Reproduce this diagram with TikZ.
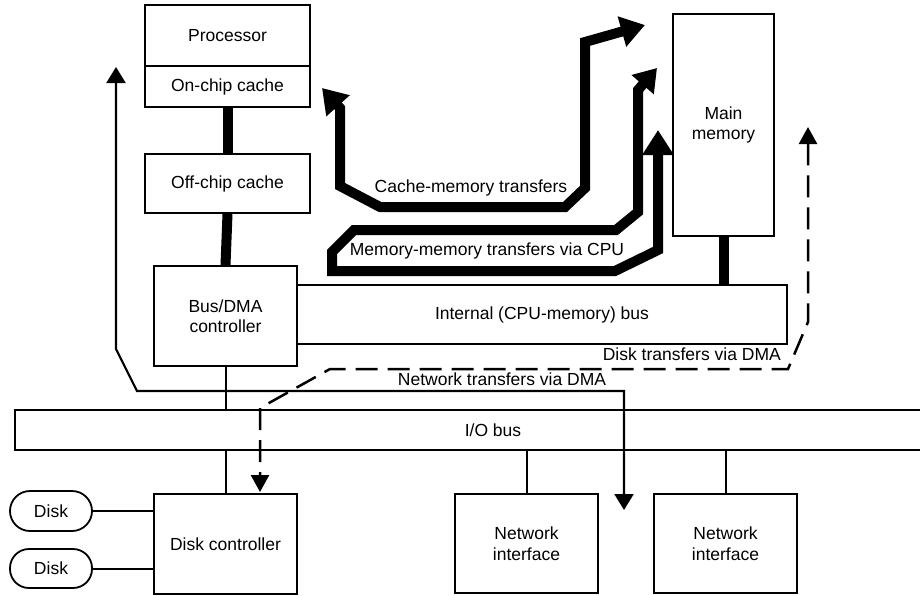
\documentclass[tikz,border=0pt]{standalone}
\usepackage{fontspec}
\setmainfont{Liberation Sans}
\usetikzlibrary{arrows.meta}
\begin{document}
\begin{tikzpicture}[x=1pt,y=-1pt,
  every node/.style={font=\fontsize{17.5}{20.5}\selectfont, inner sep=0pt, align=center},
  box/.style={draw, line width=1.8pt},
  thinln/.style={line width=2pt},
  thickln/.style={line width=10pt},
  bigarrow/.style={line width=10pt, line join=miter, miter limit=4,
     {Triangle[length=24pt,width=30pt]}-{Triangle[length=24pt,width=30pt]}},
  netarrow/.style={line width=2.2pt, line join=miter,
     {Triangle[length=16pt,width=19pt]}-{Triangle[length=16pt,width=19pt]}},
  dmaarrow/.style={line width=2.5pt, dash pattern=on 22pt off 10pt,
     {Triangle[length=17pt,width=18pt]}-{Triangle[length=17pt,width=18pt]}}
]
\useasboundingbox (0,0) rectangle (920,595);
\fill[white] (0,0) rectangle (920,595);

% boxes
\node[box, minimum width=165pt, minimum height=61pt] (proc) at (227.5,35.5) {Processor};
\node[box, minimum width=165pt, minimum height=41pt] (onchip) at (227.5,86.5) {On-chip cache};
\node[box, minimum width=165pt, minimum height=59pt] (offchip) at (227.5,183.5) {Off-chip cache};
\node[box, minimum width=143pt, minimum height=100pt] (busdma) at (225.5,316) {Bus/DMA\\controller};
\node[box, minimum width=490pt, minimum height=59pt] (intbus) at (542,314.5) {Internal (CPU-memory) bus};
\node[box, minimum width=101pt, minimum height=222pt] (mainmem) at (723.5,125) {Main\\memory};
\node[box, minimum width=143pt, minimum height=100pt] (diskctl) at (225.5,544) {Disk controller};
\node[box, minimum width=143pt, minimum height=99pt] (net1) at (526.5,543.5) {Network\\interface};
\node[box, minimum width=143pt, minimum height=99pt] (net2) at (725.5,543.5) {Network\\interface};
\node[box, rounded corners=20pt, minimum width=82pt, minimum height=40pt] (disk1) at (51,511) {Disk};
\node[box, rounded corners=19pt, minimum width=82pt, minimum height=39pt] (disk2) at (51,568.5) {Disk};

% I/O bus (open on the right)
\coordinate (iot) at (15,410);
\coordinate (iob) at (15,450);
\draw[line width=1.8pt] (925,410) -- (iot) -- (iob) -- (925,450);
\node (iotext) at (493,430.5) {I/O bus};

% thick connectors
\draw[thickln] (onchip.south) -- (offchip.north);
\draw[thickln] (offchip.south) -- (busdma.north);
\draw[thickln] (mainmem.south) -- (mainmem.south |- intbus.north);

% thin connectors
\draw[thinln] (busdma.south) -- (busdma.south |- iot);
\draw[thinln] (diskctl.north |- iob) -- (diskctl.north);
\draw[thinln] (net1.north |- iob) -- (net1.north);
\draw[thinln] (net2.north |- iob) -- (net2.north);
\draw[thinln] (disk1.east) -- (disk1.east -| diskctl.west);
\draw[thinln] (disk2.east) -- (disk2.east -| diskctl.west);

% big transfer arrows
\coordinate (cmA) at (322,88);
\coordinate (cmB) at (645,25);
\draw[bigarrow] (cmA) -- (340,108) -- (340,186) -- (380,207) -- (565,207) -- (585,188) -- (585,42) -- (cmB);
\node (cmt) at (471,188) {Cache-memory transfers};

\coordinate (mmA) at (657,68);
\coordinate (mmB) at (658,130);
\draw[line width=10pt, line join=miter, {Triangle[length=22pt,width=28pt]}-{Triangle[length=25pt,width=30pt]}]
  (mmA) -- (638,90) -- (638,212) -- (616,230) -- (354,230) -- (332,252) -- (332,271) -- (615,271) -- (658,250) -- (mmB);
\node (mmt) at (487,251) {Memory-memory transfers via CPU};

% network transfers via DMA
\coordinate (ntA) at (116,67);
\coordinate (ntB) at (624,510);
\draw[netarrow] (ntA) -- (116,349) -- (137,391) -- (624,391) -- (ntB);
\node (ntd) at (502,379) {Network transfers via DMA};

% disk transfers via DMA
\coordinate (dtA) at (808,127);
\coordinate (dtB) at (260,492);
\draw[dmaarrow] (dtA) -- (808,322) -- (788,369) -- (330,369) -- (260,408) -- (dtB);
\node[anchor=east] (dtd) at (781,354) {Disk transfers via DMA};
\end{tikzpicture}
\end{document}
